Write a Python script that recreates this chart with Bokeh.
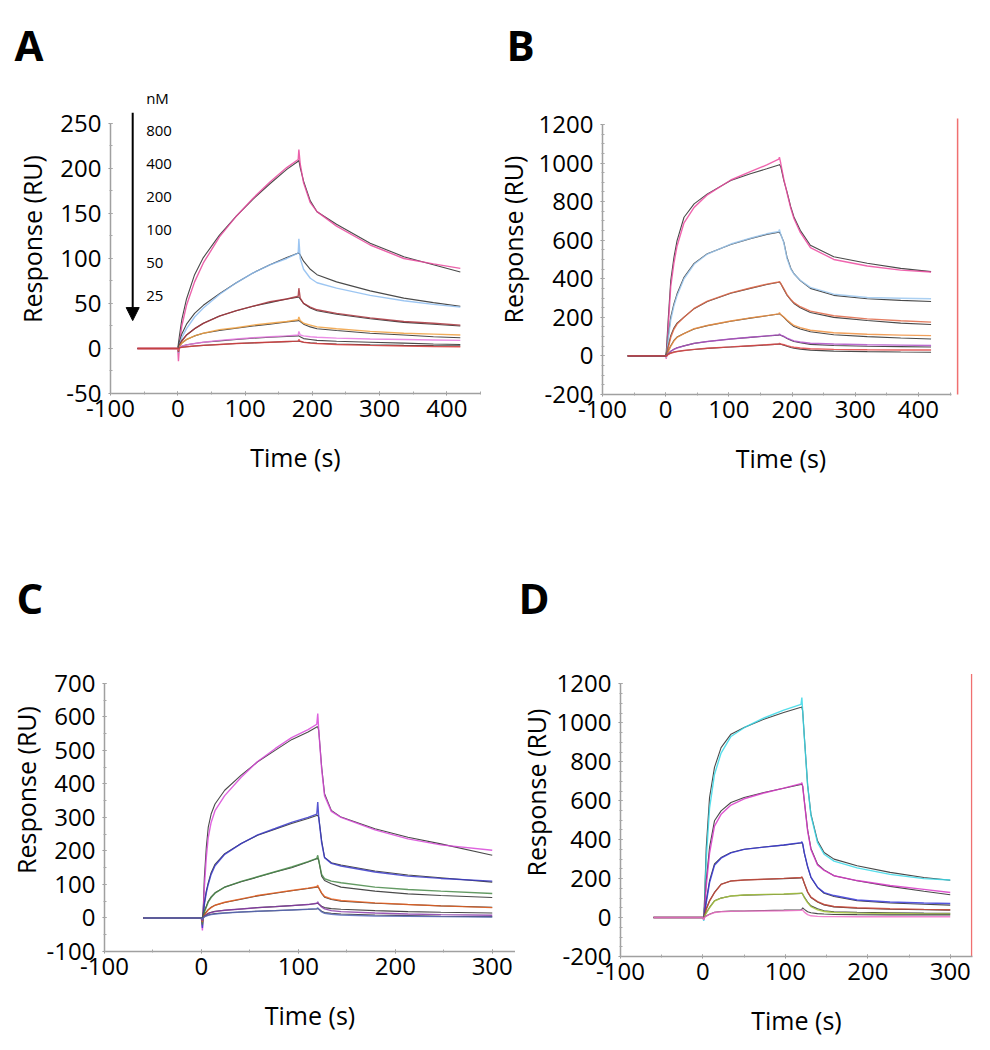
from bokeh.plotting import figure
from bokeh.layouts import column, row
from bokeh.models import (Range1d, SingleIntervalTicker, Title, Arrow, NormalHead,
                          CustomJSTickFormatter)
from bokeh.embed import file_html
from bokeh.resources import INLINE
from bokeh.core.properties import value

FONT = "Open Sans"
FIT_COLOR = "#4a4a4a"

# ---------------- Panel A data (time in s, response in RU) ----------------
A_time = [-60, 0, 1, 3, 6, 13, 25, 38, 62, 87, 112, 137, 162, 179, 180, 182, 187, 197, 207, 236, 286, 336, 380, 420]
A_obs_800 = [0, 0, -14, 8, 25, 48, 74, 95, 124, 147, 167, 185, 201, 210, 221, 205, 184, 162, 152, 136, 115, 100, 94, 89]
A_fit_800 = [0, 0, 6, 17, 32, 55, 82, 101, 126, 147, 166, 183, 199, 208, 209, 201, 186, 164, 152, 138, 117, 102, 93, 85]
A_obs_400 = [0, 0, -5, 5, 12, 22, 35, 45, 60, 73, 84, 93, 100, 106, 122, 100, 88, 78, 73, 67, 59, 53, 49, 46]
A_fit_400 = [0, 0, 3, 9, 16, 27, 39, 48, 61, 73, 84, 93, 101, 106, 106, 104, 97, 88, 82, 74, 64, 56, 51, 47]
A_obs_200 = [0, 0, -4, 4, 8, 15, 22, 28, 36, 42, 47, 52, 55, 58, 67, 56, 50, 46, 43, 39, 34, 30, 28, 26]
A_fit_200 = [0, 0, 2, 5, 9, 15, 22, 28, 36, 42, 47, 51, 55, 57, 57, 55, 50, 45, 42, 38, 33, 29, 27, 25]
A_obs_100 = [0, 0, -2, 3, 6, 10, 14, 17, 21, 23, 26, 28, 30, 32, 35, 31, 28, 26, 24, 22, 19, 17, 16, 15]
A_fit_100 = [0, 0, 1, 3, 6, 10, 14, 17, 20, 22.5, 25, 27, 29.5, 31, 31, 30, 27, 24, 22, 20, 17, 15, 13, 12]
A_obs_50 = [0, 0, -1, 1.5, 2.5, 4, 5.5, 7, 9, 10.5, 12, 13, 14, 15, 19, 15, 14, 13, 12.5, 11.5, 10.5, 10, 9.5, 9]
A_fit_50 = [0, 0, 0.5, 1.5, 2.5, 4, 5.5, 7, 8.5, 10, 11.5, 12.5, 13.5, 14, 14, 13, 11, 10, 9, 8, 7, 6, 5, 4.5]
A_obs_25 = [0, 0, -1, 0.8, 1.3, 2, 2.8, 3.5, 4.5, 5.5, 6.3, 7, 7.7, 8.2, 10, 8, 7, 6, 5.5, 4.5, 3.5, 2.8, 2.3, 2]
A_fit_25 = [0, 0, 0.3, 0.8, 1.3, 2, 2.8, 3.5, 4.5, 5.5, 6.2, 7, 7.6, 8, 8, 7.8, 7, 6.3, 5.8, 5, 4.2, 3.5, 3.2, 3]
A_colors = ["#e8489c", "#8cbcf0", "#a8343c", "#f0a040", "#e878e0", "#d84040"]

# ---------------- Panel B data ----------------
B_time = [-60, 0, 1, 4, 8, 13, 18, 29, 45, 66, 103, 134, 160, 179, 180, 182, 187, 192, 198, 203, 213, 229, 266, 319, 372, 420]
B_obs_1 = [0, 0, -15, 150, 360, 480, 570, 690, 770, 835, 912, 955, 990, 1020, 1030, 1000, 915, 845, 765, 712, 640, 562, 500, 466, 445, 435]
B_fit_1 = [0, 0, 25, 190, 391, 510, 598, 719, 788, 840, 909, 944, 970, 990, 992, 982, 909, 850, 772, 720, 651, 574, 514, 480, 454, 437]
B_obs_2 = [0, 0, -10, 85, 185, 258, 312, 400, 475, 528, 580, 610, 633, 645, 655, 632, 585, 505, 450, 425, 392, 355, 320, 303, 299, 296]
B_fit_2 = [0, 0, 10, 100, 201, 270, 322, 408, 480, 530, 578, 608, 630, 641, 641, 630, 590, 512, 455, 426, 390, 350, 314, 296, 288, 282]
B_obs_3 = [0, 0, -5, 42, 95, 138, 165, 200, 246, 284, 327, 352, 372, 383, 386, 376, 348, 318, 293, 276, 255, 232, 208, 192, 182, 175]
B_fit_3 = [0, 0, 5, 50, 105, 145, 170, 201, 245, 282, 325, 350, 370, 382, 382, 375, 345, 315, 290, 272, 250, 225, 200, 184, 170, 163]
B_obs_4 = [0, 0, -3, 22, 50, 77, 96, 116, 141, 158, 181, 197, 209, 218, 224, 215, 202, 186, 170, 158, 147, 133, 120, 112, 108, 105]
B_fit_4 = [0, 0, 3, 25, 53, 80, 98, 116, 140, 157, 180, 196, 208, 217, 218, 214, 200, 183, 165, 152, 140, 125, 110, 100, 93, 88]
B_obs_5 = [0, 0, -2, 11, 23, 34, 41, 52, 65, 75, 88, 97, 104, 109, 114, 108, 101, 92, 84, 78, 72, 66, 62, 58, 56, 54]
B_fit_5 = [0, 0, 2, 12, 25, 35, 42, 52, 65, 75, 88, 96, 103, 108, 109, 107, 100, 90, 81, 75, 68, 60, 54, 50, 48, 46]
B_obs_6 = [0, 0, -1, 7, 14, 19, 23, 28, 34, 40, 47, 53, 58, 62, 65, 62, 58, 53, 48, 45, 41, 37, 34, 32, 31, 31]
B_fit_6 = [0, 0, 1, 8, 15, 20, 23, 28, 33, 39, 46, 52, 57, 61, 62, 61, 56, 50, 44, 40, 35, 30, 25, 22, 20, 19]
B_colors = ["#ec4aa0", "#9cc8f0", "#e06848", "#f09040", "#b050c8", "#e04848"]
B_marker_x = [462]
B_marker_y = [-220, 1231]

# ---------------- Panel C data ----------------
C_time = [-60, 0, 1, 2, 3, 5, 7, 10, 14, 24, 41, 58, 76, 93, 110, 119, 120, 121, 124, 127, 134, 144, 179, 213, 247, 300]
C_obs_1 = [0, 0, -37, 20, 90, 180, 240, 285, 320, 365, 420, 467, 505, 538, 562, 578, 610, 560, 445, 365, 318, 300, 263, 236, 218, 202]
C_fit_1 = [0, 0, 0, 40, 120, 210, 270, 310, 340, 381, 426, 466, 500, 532, 555, 570, 570, 560, 451, 371, 321, 301, 266, 241, 221, 187]
C_obs_2 = [0, 0, -30, 10, 40, 75, 100, 130, 156, 190, 222, 248, 267, 285, 300, 310, 346, 300, 225, 180, 163, 155, 137, 125, 118, 110]
C_fit_2 = [0, 0, 0, 15, 45, 80, 105, 135, 160, 192, 222, 247, 265, 282, 297, 306, 306, 300, 231, 181, 165, 158, 140, 128, 120, 107]
C_obs_3 = [0, 0, -20, 5, 17, 32, 47, 61, 74, 92, 109, 123, 138, 152, 168, 178, 187, 172, 130, 117, 110, 105, 92, 85, 80, 73]
C_fit_3 = [0, 0, 0, 8, 20, 35, 50, 63, 75, 92, 108, 122, 137, 150, 167, 177, 177, 172, 125, 112, 102, 92, 80, 72, 67, 61]
C_obs_4 = [0, 0, -12, 2, 8, 16, 24, 31, 38, 47, 57, 67, 75, 82, 89, 93, 98, 90, 75, 64, 57, 52, 45, 40, 36, 31]
C_fit_4 = [0, 0, 0, 4, 10, 18, 25, 32, 38, 46, 56, 66, 74, 81, 88, 92, 92, 90, 73, 62, 55, 50, 44, 40, 36, 32]
C_obs_5 = [0, 0, -8, 1, 5, 9, 13, 16, 19, 23, 27, 31, 34, 37, 40, 44, 48, 42, 33, 27, 22, 19, 15, 12, 10, 8]
C_fit_5 = [0, 0, 0, 2, 6, 10, 14, 17, 20, 23, 27, 31, 34, 37, 40, 43, 43, 42, 35, 31, 28, 26, 22, 19, 17, 15]
C_obs_6 = [0, 0, -5, 1, 3, 6, 8, 10, 12, 15, 18, 20, 22, 24, 26, 28, 30, 26, 18, 14, 11, 9, 6, 5, 4, 3]
C_fit_6 = [0, 0, 0, 2, 4, 7, 9, 11, 13, 15, 18, 20, 22, 24, 26, 27, 28, 27, 20, 16, 14, 12, 9, 7, 5, 4]
C_colors = ["#d848d8", "#3838c8", "#488848", "#e86020", "#8838a8", "#5868b8"]

# ---------------- Panel D data ----------------
D_time = [-60, 0, 1, 2, 4, 8, 14, 22, 34, 50, 74, 98, 119, 120, 121, 123, 127, 131, 139, 147, 159, 187, 227, 268, 300]
D_obs_1 = [0, 0, -17, 60, 300, 560, 735, 845, 930, 975, 1025, 1065, 1095, 1130, 1060, 925, 680, 525, 385, 325, 290, 255, 222, 200, 193]
D_fit_1 = [0, 0, 0, 100, 360, 616, 771, 873, 942, 976, 1019, 1053, 1080, 1082, 1060, 930, 680, 531, 394, 334, 300, 266, 232, 206, 192]
D_obs_2 = [0, 0, -10, 40, 160, 330, 470, 530, 578, 610, 640, 665, 688, 693, 675, 595, 445, 350, 270, 242, 215, 190, 165, 145, 129]
D_fit_2 = [0, 0, 0, 60, 189, 360, 497, 548, 591, 617, 642, 664, 683, 685, 675, 600, 450, 355, 274, 245, 215, 189, 160, 135, 117]
D_obs_3 = [0, 0, -8, 18, 75, 178, 268, 305, 332, 350, 362, 373, 385, 390, 378, 332, 262, 208, 156, 128, 113, 90, 80, 75, 72]
D_fit_3 = [0, 0, 0, 25, 86, 189, 275, 308, 334, 351, 362, 372, 383, 385, 378, 330, 260, 206, 154, 125, 108, 86, 75, 68, 64]
D_obs_4 = [0, 0, -5, 10, 42, 84, 128, 170, 188, 193, 197, 201, 206, 210, 200, 176, 132, 105, 82, 67, 57, 50, 45, 42, 40]
D_fit_4 = [0, 0, 0, 12, 45, 86, 129, 171, 188, 193, 197, 200, 204, 205, 200, 175, 130, 103, 80, 65, 55, 48, 43, 40, 38]
D_obs_5 = [0, 0, -4, 6, 23, 50, 85, 100, 111, 116, 119, 121, 125, 127, 120, 103, 76, 56, 40, 31, 26, 23, 21, 19, 18]
D_fit_5 = [0, 0, 0, 8, 25, 52, 86, 100, 111, 115, 118, 120, 124, 125, 120, 105, 80, 60, 45, 35, 30, 27, 25, 23, 22]
D_obs_6 = [0, 0, -12, 1, 7, 16, 26, 30, 32, 33, 34, 35, 37, 40, 38, 28, 15, 9, 6, 5, 5, 4, 4, 4, 4]
D_fit_6 = [0, 0, 0, 3, 8, 17, 27, 31, 33, 34, 36, 38, 40, 43, 50, 42, 30, 25, 20, 18, 16, 15, 14, 14, 14]
D_colors = ["#38d8e8", "#d838c8", "#3838d8", "#c84838", "#a8c840", "#f070c8"]
D_marker_x = [326]
D_marker_y = [-210, 1251]

# concentration legend of panel A
conc_labels = ["nM", "800", "400", "200", "100", "50", "25"]

TICK_FMT = "return tick.toFixed(0);"


def make_panel(width, height, xr, yr, borders, yint, yminor, xbounds, ybounds,
               ylab_standoff, letter, letter_offset, letter_standoff):
    left, right, top, bottom = borders
    p = figure(width=width, height=height, x_range=Range1d(*xr), y_range=Range1d(*yr),
               output_backend="svg", toolbar_location=None, frame_align=False,
               min_border_left=left, min_border_right=right,
               min_border_top=top, min_border_bottom=bottom)
    p.outline_line_color = None
    p.grid.visible = False
    p.xaxis.ticker = SingleIntervalTicker(interval=100, num_minor_ticks=2)
    p.yaxis.ticker = SingleIntervalTicker(interval=yint, num_minor_ticks=yminor)
    for ax in (p.xaxis[0], p.yaxis[0]):
        ax.formatter = CustomJSTickFormatter(code=TICK_FMT)
        ax.axis_line_color = "#a0a0a0"
        ax.axis_line_width = 1.5
        ax.major_tick_line_color = "#909090"
        ax.major_tick_in = 2
        ax.major_tick_out = 2
        ax.minor_tick_line_color = "#a8a8a8"
        ax.minor_tick_in = 2
        ax.minor_tick_out = 1
        ax.major_label_text_font = FONT
        ax.major_label_text_font_size = "24px"
        ax.major_label_text_color = "black"
        ax.axis_label_text_font = FONT
        ax.axis_label_text_font_size = "25px"
        ax.axis_label_text_font_style = "normal"
        ax.axis_label_text_color = "black"
    p.xaxis.axis_label = "Time (s)"
    p.yaxis.axis_label = "Response (RU)"
    p.xaxis.major_label_standoff = 4
    p.yaxis.major_label_standoff = 7
    p.xaxis.axis_label_standoff = 20
    p.yaxis.axis_label_standoff = ylab_standoff
    p.xaxis.bounds = xbounds
    p.yaxis.bounds = ybounds
    p.add_layout(Title(text=letter, align="left", offset=letter_offset, standoff=letter_standoff,
                       vertical_align="bottom", text_font=FONT, text_font_size="42px",
                       text_font_style="bold", text_color="black"), "above")
    return p


def add_curves(p, t, obs_list, fit_list, colors):
    for obs, fit, c in zip(obs_list, fit_list, colors):
        p.line(t, fit, line_color=FIT_COLOR, line_width=1.1)
        p.line(t, obs, line_color=c, line_width=1.4, line_alpha=0.85)


# Panel A
pA = make_panel(490, 562, (-100, 450), (-50, 293.3), (110, 10, 84, 169), 50, 2,
                (-100, 450), (-50, 250), 8, "A", -96, 24)
add_curves(pA, A_time,
           [A_obs_800, A_obs_400, A_obs_200, A_obs_100, A_obs_50, A_obs_25],
           [A_fit_800, A_fit_400, A_fit_200, A_fit_100, A_fit_50, A_fit_25], A_colors)
pA.add_layout(Arrow(x_start=-67, y_start=262, x_end=-67, y_end=31, line_width=2, line_color="black",
                    end=NormalHead(size=13, fill_color="black", line_color="black")))
conc_y = [278 - 36.7 * i for i in range(len(conc_labels))]
pA.text(x=[-47] * len(conc_labels), y=conc_y, text=conc_labels, text_font=value(FONT),
        text_font_size="15px", text_baseline="middle", text_align="left", text_color="black")

# Panel B
pB = make_panel(500, 562, (-100, 465), (-200, 1407), (112, 31, 84, 168), 200, 4,
                (-100, 452), (-200, 1200), 6, "B", -96, 24)
add_curves(pB, B_time, [B_obs_1, B_obs_2, B_obs_3, B_obs_4, B_obs_5, B_obs_6],
           [B_fit_1, B_fit_2, B_fit_3, B_fit_4, B_fit_5, B_fit_6], B_colors)
pB.segment(x0=B_marker_x, y0=[B_marker_y[0]], x1=B_marker_x, y1=[B_marker_y[1]],
           line_color="#f07070", line_width=1.5)

# Panel C
pC = make_panel(515, 483, (-100, 324), (-100, 863.6), (104, 0, 66, 94), 100, 2,
                (-100, 324), (-100, 700), 1, "C", -88, 6)
add_curves(pC, C_time, [C_obs_1, C_obs_2, C_obs_3, C_obs_4, C_obs_5, C_obs_6],
           [C_fit_1, C_fit_2, C_fit_3, C_fit_4, C_fit_5, C_fit_6], C_colors)

# Panel D
pD = make_panel(475, 483, (-100, 327), (-200, 1484.6), (104, 18, 66, 89), 200, 4,
                (-100, 327), (-200, 1200), 1, "D", -102, 6)
add_curves(pD, D_time, [D_obs_1, D_obs_2, D_obs_3, D_obs_4, D_obs_5, D_obs_6],
           [D_fit_1, D_fit_2, D_fit_3, D_fit_4, D_fit_5, D_fit_6], D_colors)
pD.segment(x0=D_marker_x, y0=[D_marker_y[0]], x1=D_marker_x, y1=[D_marker_y[1]],
           line_color="#f07070", line_width=1.5)

layout = column(row(pA, pB), row(pC, pD))
open("out.html", "w").write(file_html(layout, INLINE))
